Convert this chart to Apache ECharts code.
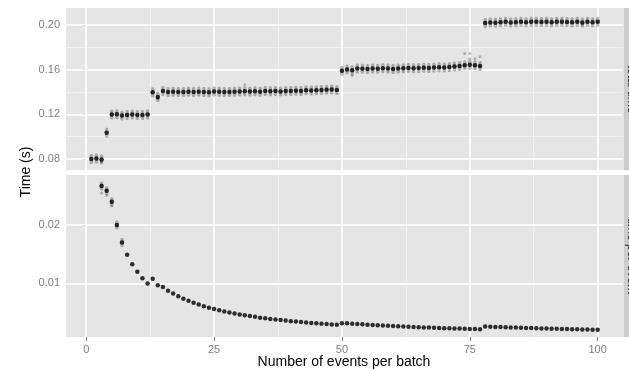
<!DOCTYPE html>
<html>
<head>
<meta charset="utf-8">
<script src="https://cdn.jsdelivr.net/npm/echarts@6/dist/echarts.min.js"></script>
<style>
  html, body { margin: 0; padding: 0; background: #fff; }
  #chart { width: 629px; height: 371px; }
</style>
</head>
<body>
<div id="chart"></div>
<script>
// x: events per batch
var batchSizes = [1,2,3,4,5,6,7,8,9,10,11,12,13,14,15,16,17,18,19,20,
  21,22,23,24,25,26,27,28,29,30,31,32,33,34,35,36,37,38,39,40,
  41,42,43,44,45,46,47,48,49,50,51,52,53,54,55,56,57,58,59,60,
  61,62,63,64,65,66,67,68,69,70,71,72,73,74,75,76,77,78,79,80,
  81,82,83,84,85,86,87,88,89,90,91,92,93,94,95,96,97,98,99,100]

// top panel: time for the whole batch
var totalTime = [0.0800,0.0805,0.0795,0.1035,0.1198,0.1200,0.1190,0.1195,0.1198,0.1195,
  0.1195,0.1198,0.1398,0.1355,0.1410,0.1400,0.1402,0.1400,0.1401,0.1402,
  0.1400,0.1403,0.1400,0.1398,0.1405,0.1402,0.1400,0.1401,0.1403,0.1405,
  0.1407,0.1404,0.1406,0.1402,0.1408,0.1406,0.1410,0.1405,0.1410,0.1408,
  0.1412,0.1410,0.1415,0.1413,0.1416,0.1418,0.1420,0.1422,0.1418,0.1590,
  0.1602,0.1595,0.1610,0.1608,0.1605,0.1610,0.1608,0.1612,0.1610,0.1605,
  0.1610,0.1612,0.1615,0.1613,0.1615,0.1618,0.1615,0.1620,0.1622,0.1620,
  0.1625,0.1628,0.1632,0.1640,0.1645,0.1640,0.1632,0.2018,0.2022,0.2020,
  0.2025,0.2028,0.2022,0.2025,0.2030,0.2025,0.2028,0.2030,0.2027,0.2030,
  0.2025,0.2028,0.2030,0.2027,0.2025,0.2028,0.2022,0.2030,0.2025,0.2030]

// bottom panel: time per event (1 and 2 are above the panel)
var perEventTime = [null,null,0.0267,0.0259,0.0240,0.0200,0.0170,0.0149,0.0133,0.0120,
  0.0109,0.0100,0.0108,0.0097,0.0094,0.00875,0.00825,0.00778,0.00737,0.00701,
  0.00667,0.00638,0.00609,0.00583,0.00562,0.00539,0.00519,0.00500,0.00484,0.00468,
  0.00454,0.00439,0.00426,0.00412,0.00402,0.00391,0.00381,0.00370,0.00362,0.00352,
  0.00344,0.00336,0.00329,0.00321,0.00315,0.00308,0.00302,0.00296,0.00289,0.00318,
  0.00314,0.00307,0.00304,0.00298,0.00292,0.00288,0.00282,0.00278,0.00273,0.00268,
  0.00264,0.00260,0.00256,0.00252,0.00248,0.00245,0.00241,0.00238,0.00235,0.00231,
  0.00229,0.00226,0.00224,0.00222,0.00219,0.00216,0.00212,0.00259,0.00256,0.00253,
  0.00250,0.00247,0.00244,0.00241,0.00238,0.00236,0.00233,0.00231,0.00228,0.00226,
  0.00223,0.00220,0.00218,0.00216,0.00213,0.00211,0.00208,0.00207,0.00205,0.00203]

// single runs that stand away from the rest
var totalOutliers = [[3,0.0776],[14,0.1340],[31,0.1465],[52,0.1548],[74,0.1745],
  [75,0.1745],[75,0.1697],[76,0.1697],[77,0.1715],[97,0.2002]]
var perEventOutliers = [[3,0.0255],[4,0.0251],[5,0.0233]]

var xTicks = [0,25,50,75,100]
var xMinor = [12.5,37.5,62.5,87.5]
var totalTicks = [0.08,0.12,0.16,0.20]
var totalMinor = [0.10,0.14,0.18]
var perEventTicks = [0.01,0.02]
var perEventMinor = [0.005,0.015,0.025]
var panelNames = ['total time', 'time per event']

function pairs(ys) {
  var out = []
  for (var i in batchSizes) {
    if (ys[i] != null) out.push([batchSizes[i], ys[i]])
  }
  return out
}

function gridLines(xIdx, yIdx, yMajor, yMinor) {
  var data = []
  var minorStyle = {color: '#f2f2f2', width: 0.9, type: 'solid'}
  var majorStyle = {color: '#ffffff', width: 1.6, type: 'solid'}
  xMinor.forEach(function (v) { data.push({xAxis: v, lineStyle: minorStyle}) })
  yMinor.forEach(function (v) { data.push({yAxis: v, lineStyle: minorStyle}) })
  xTicks.forEach(function (v) { data.push({xAxis: v, lineStyle: majorStyle}) })
  yMajor.forEach(function (v) { data.push({yAxis: v, lineStyle: majorStyle}) })
  return {
    type: 'line', xAxisIndex: xIdx, yAxisIndex: yIdx, data: [],
    silent: true, z: 1,
    markLine: {
      silent: true, z: 1, animation: false,
      symbol: ['none', 'none'], label: {show: false},
      emphasis: {disabled: true},
      data: data
    }
  }
}

var greyText = '#7f7f7f'
var fontFam = '"Liberation Sans", Arial, sans-serif'

function xAxisOpt(idx, showLabels) {
  return {
    type: 'value', gridIndex: idx, min: -3.95, max: 104.95,
    axisLine: {show: false},
    splitLine: {show: false},
    axisTick: {show: showLabels, customValues: xTicks, length: 4, lineStyle: {color: greyText, width: 1}},
    axisLabel: {show: showLabels, customValues: xTicks, margin: 7, color: greyText, fontSize: 11, fontFamily: fontFam}
  }
}

function yAxisOpt(idx, min, max, ticks) {
  return {
    type: 'value', gridIndex: idx, min: min, max: max,
    axisLine: {show: false},
    splitLine: {show: false},
    axisTick: {show: true, customValues: ticks, length: 4, lineStyle: {color: greyText, width: 1}},
    axisLabel: {
      customValues: ticks, margin: 6, color: greyText, fontSize: 11, fontFamily: fontFam,
      formatter: function (v) { return v.toFixed(2) }
    }
  }
}

var totalPts = pairs(totalTime)
var perEventPts = pairs(perEventTime)
var perEventSpread = perEventPts.filter(function (p) { return p[0] <= 7 })

var option = {
  backgroundColor: '#ffffff',
  animation: false,
  grid: [
    {left: 66, top: 8, width: 557, height: 162, show: true, backgroundColor: '#e5e5e5', borderWidth: 0},
    {left: 66, top: 175, width: 557, height: 162, show: true, backgroundColor: '#e5e5e5', borderWidth: 0}
  ],
  xAxis: [xAxisOpt(0, false), xAxisOpt(1, true)],
  yAxis: [
    yAxisOpt(0, 0.0702, 0.2152, totalTicks),
    yAxisOpt(1, 0.0008, 0.0286, perEventTicks)
  ],
  series: [
    gridLines(0, 0, totalTicks, totalMinor),
    gridLines(1, 1, perEventTicks, perEventMinor),
    {
      type: 'scatter', xAxisIndex: 0, yAxisIndex: 0, data: totalPts, z: 2,
      symbol: 'roundRect', symbolSize: [3.5, 10],
      itemStyle: {color: 'rgba(0,0,0,0.32)'}
    },
    {
      type: 'scatter', xAxisIndex: 0, yAxisIndex: 0, data: totalOutliers, z: 3,
      symbolSize: 3, itemStyle: {color: 'rgba(0,0,0,0.3)'}
    },
    {
      type: 'scatter', xAxisIndex: 0, yAxisIndex: 0, data: totalPts, z: 4,
      symbolSize: 4.5, itemStyle: {color: '#000000'}
    },
    {
      type: 'scatter', xAxisIndex: 1, yAxisIndex: 1, data: perEventSpread, z: 2,
      symbol: 'roundRect', symbolSize: [3.5, 9],
      itemStyle: {color: 'rgba(0,0,0,0.32)'}
    },
    {
      type: 'scatter', xAxisIndex: 1, yAxisIndex: 1, data: perEventOutliers, z: 3,
      symbolSize: 3, itemStyle: {color: 'rgba(0,0,0,0.3)'}
    },
    {
      type: 'scatter', xAxisIndex: 1, yAxisIndex: 1, data: perEventPts, z: 4,
      symbolSize: 4.5, itemStyle: {color: '#000000'}
    }
  ],
  graphic: [
    {type: 'rect', left: 623.5, top: 8, shape: {width: 20, height: 162}, style: {fill: '#cccccc'}, silent: true},
    {type: 'rect', left: 623.5, top: 175, shape: {width: 20, height: 162}, style: {fill: '#cccccc'}, silent: true},
    {
      type: 'text', x: 631.5, y: 89, rotation: -Math.PI / 2, silent: true,
      style: {text: panelNames[0], fill: '#1a1a1a', font: '12px ' + fontFam, align: 'center', verticalAlign: 'middle'}
    },
    {
      type: 'text', x: 631.5, y: 256, rotation: -Math.PI / 2, silent: true,
      style: {text: panelNames[1], fill: '#1a1a1a', font: '12px ' + fontFam, align: 'center', verticalAlign: 'middle'}
    },
    {
      type: 'text', x: 26, y: 172, rotation: Math.PI / 2, silent: true,
      style: {text: 'Time (s)', fill: '#000000', font: '14px ' + fontFam, align: 'center', verticalAlign: 'middle'}
    },
    {
      type: 'text', x: 344, y: 362, silent: true,
      style: {text: 'Number of events per batch', fill: '#000000', font: '14px ' + fontFam, align: 'center', verticalAlign: 'middle'}
    }
  ]
}

var mychart = echarts.init(document.getElementById('chart'), null, {renderer: 'canvas'})
mychart.setOption(option)
</script>
</body>
</html>
